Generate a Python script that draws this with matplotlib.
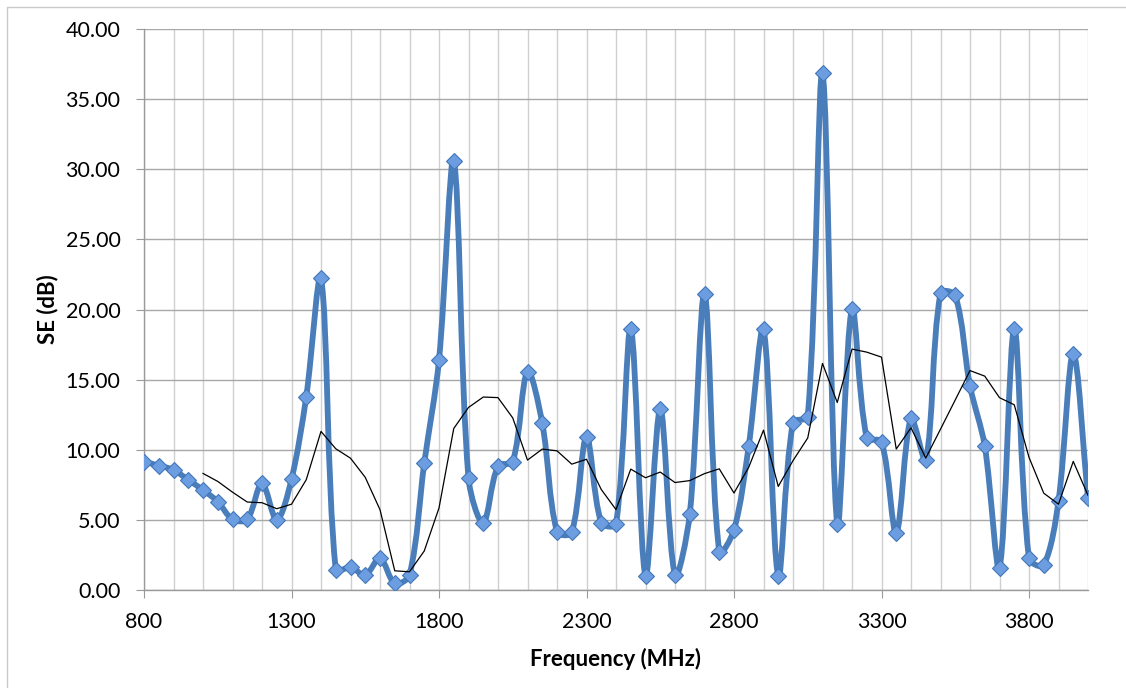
import numpy as np
import pandas as pd
import matplotlib
matplotlib.use("Agg")
import matplotlib.pyplot as plt
from matplotlib.path import Path
from matplotlib.patches import PathPatch, Rectangle

plt.rcParams['font.family'] = ['Lato', 'DejaVu Sans']

# frequency in MHz, 50 MHz steps
freq = list(range(800, 4001, 50))
se = [9.15, 8.87, 8.56, 7.85, 7.13, 6.30, 5.04, 5.04, 7.61, 4.99,
      7.90, 13.79, 22.25, 1.43, 1.62, 1.07, 2.26, 0.47, 1.07, 9.04,
      16.40, 30.60, 7.97, 4.78, 8.84, 9.15, 15.57, 11.89, 4.16, 4.10,
      10.89, 4.80, 4.71, 18.60, 1.02, 12.91, 1.07, 5.40, 21.09, 2.73,
      4.28, 10.29, 18.60, 1.02, 11.94, 12.36, 36.85, 4.68, 20.06, 10.85,
      10.58, 4.09, 12.24, 9.27, 21.16, 21.00, 14.55, 10.27, 1.59, 18.62,
      2.26, 1.78, 6.35, 16.83, 6.54]
ma_period = 5  # moving average trendline

x = np.array(freq, dtype=float)
y = np.array(se)
trend = pd.Series(y).rolling(ma_period).mean()

fig = plt.figure(figsize=(11.26, 6.88), dpi=100)
ax = fig.add_axes([144 / 1126, 98 / 688, (1088 - 144) / 1126, (590 - 29) / 688])
ax.set_xlim(800, 4000)
ax.set_ylim(0, 40)

# chart area border (Excel style)
fig.add_artist(Rectangle((7 / 1126, -0.1), 1.2, 1 - 7 / 688 + 0.1,
                         transform=fig.transFigure, fill=False,
                         edgecolor='#c9c9c9', lw=1.0))

# smoothed line like Excel: bezier, tangents weighted by segment length (pixel space)
pts = ax.transData.transform(np.column_stack([x, y]))
ext = np.vstack([pts[0], pts, pts[-1]])
verts = [pts[0]]
codes = [Path.MOVETO]
for i in range(len(pts) - 1):
    p0, p1, p2, p3 = ext[i], ext[i + 1], ext[i + 2], ext[i + 3]
    d01 = np.hypot(*(p1 - p0))
    d12 = np.hypot(*(p2 - p1))
    d23 = np.hypot(*(p3 - p2))
    f1 = d12 / (d01 + d12) if d01 + d12 > 0 else 0
    f2 = d12 / (d12 + d23) if d12 + d23 > 0 else 0
    c1 = p1 + (p2 - p0) * f1 / 3.0
    c2 = p2 - (p3 - p1) * f2 / 3.0
    verts += [c1, c2, p2]
    codes += [Path.CURVE4] * 3
verts = ax.transData.inverted().transform(np.array(verts))
ax.add_patch(PathPatch(Path(verts, codes), facecolor='none',
                       edgecolor='#4a7ebb', lw=4.2, zorder=3,
                       capstyle='round', joinstyle='round'))
ax.plot(x, y, ls='none', marker='D', ms=8.5, mfc='#6b9de0',
        mec='#4377b8', mew=0.8, zorder=4)

ax.plot(x, trend, color='black', lw=0.9, zorder=5)

ax.set_xticks(np.arange(800, 4000, 500))
ax.set_xticks(np.arange(800, 4001, 100), minor=True)
ax.set_yticks(np.arange(0, 40.1, 5))
ax.set_yticklabels([f"{v:.2f}" for v in np.arange(0, 40.1, 5)])

ax.grid(True, which='minor', axis='x', color='#d0d0d0', lw=1.0)
ax.grid(True, which='major', axis='x', color='#d0d0d0', lw=1.0)
ax.grid(True, which='major', axis='y', color='#a8a8a8', lw=1.0)
ax.set_axisbelow(True)

for s in ['top', 'right']:
    ax.spines[s].set_visible(False)
for s in ['left', 'bottom']:
    ax.spines[s].set_color('#9a9a9a')
    ax.spines[s].set_linewidth(1.0)

ax.tick_params(axis='both', which='major', length=6, color='#9a9a9a',
               labelsize=15.5, pad=11)
ax.tick_params(axis='x', which='minor', length=0)
ax.tick_params(axis='x', pad=10)

ax.set_xlabel('Frequency (MHz)', fontsize=16, fontweight='bold', labelpad=11)
ax.set_ylabel('SE (dB)', fontsize=16, fontweight='bold', labelpad=5)

fig.savefig('out.png', dpi=100)
